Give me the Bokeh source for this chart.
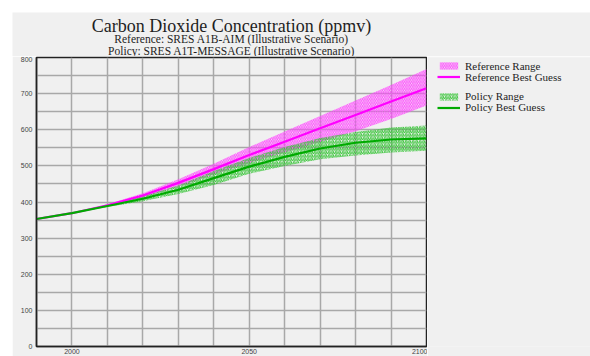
from bokeh.plotting import figure
from bokeh.models import Legend, LegendItem, Label, FixedTicker, Range1d, Spacer
from bokeh.layouts import column, row
from bokeh.embed import file_html
from bokeh.resources import INLINE

years = [1990, 2000, 2010, 2020, 2030, 2040, 2050, 2060, 2070, 2080, 2090, 2100]
ref_best = [353, 369, 391, 418, 453, 491, 530, 567, 604, 641, 678, 715]
ref_low = [353, 369, 388, 412, 443, 476, 508, 537, 566, 596, 630, 667]
ref_high = [353, 369, 394, 424, 463, 506, 552, 595, 638, 681, 724, 768]
pol_best = [353, 369, 389, 409, 434, 466, 498, 525, 548, 564, 573, 576]
pol_low = [353, 369, 386, 402, 422, 447, 478, 500, 518, 529, 537, 542]
pol_high = [353, 369, 392, 416, 446, 486, 522, 552, 577, 594, 606, 612]

x_tick_labels = [2000, 2050, 2100]
y_tick_labels = [0, 100, 200, 300, 400, 500, 600, 700, 800]
x_grid = [2000, 2010, 2020, 2030, 2040, 2050, 2060, 2070, 2080, 2090]
y_grid = [50, 100, 150, 200, 250, 300, 350, 400, 450, 500, 550, 600, 650, 700, 750]

title_text = "Carbon Dioxide Concentration (ppmv)"
sub1_text = "Reference: SRES A1B-AIM (Illustrative Scenario)"
sub2_text = "Policy: SRES A1T-MESSAGE (Illustrative Scenario)"
legend_labels = ["Reference Range", "Reference Best Guess", "Policy Range", "Policy Best Guess"]

BG = "#f0f0f0"
SERIF = "Liberation Serif"
SANS = "Liberation Sans"
TXT = "#1e1e1e"
REF_LINE = "#ff00ff"
REF_HATCH = "#ff44ff"
POL_LINE = "#00aa00"
POL_HATCH = "#33c433"

# ---------- title strip ----------
tf = figure(width=578, height=44, output_backend="svg", toolbar_location=None,
            min_border=0, x_axis_type=None, y_axis_type=None)
tf.background_fill_color = BG
tf.border_fill_color = BG
tf.outline_line_color = None
tf.xgrid.visible = False
tf.ygrid.visible = False
for txt, yy, fs in [(title_text, 30.5, "18px"), (sub1_text, 17.5, "11.5px"), (sub2_text, 5.5, "11.5px")]:
    tf.add_layout(Label(x=219, y=yy, x_units="screen", y_units="screen", text=txt,
                        text_align="center", text_baseline="alphabetic", text_font=SERIF,
                        text_font_size=fs, text_color=TXT))

# ---------- main plot ----------
p = figure(width=415, height=300, output_backend="svg", toolbar_location=None,
           x_range=Range1d(1990, 2100), y_range=Range1d(0, 800),
           min_border_left=24, min_border_right=1, min_border_top=1, min_border_bottom=7)
p.background_fill_color = BG
p.border_fill_color = BG
p.outline_line_color = "#222222"
p.outline_line_width = 1.5

for ax in (p.xaxis[0], p.yaxis[0]):
    ax.major_tick_line_color = None
    ax.minor_tick_line_color = None
    ax.major_tick_out = 0
    ax.major_tick_in = 0
    ax.axis_line_color = "#222222"
    ax.axis_line_width = 1.5
    ax.major_label_text_font = SANS
    ax.major_label_text_font_size = "7px"
    ax.major_label_text_color = "#444444"

p.xaxis.ticker = FixedTicker(ticks=x_tick_labels)
p.yaxis.ticker = FixedTicker(ticks=y_tick_labels)
p.xaxis.major_label_standoff = 2
p.yaxis.major_label_standoff = 4

p.xgrid.ticker = FixedTicker(ticks=x_grid)
p.ygrid.ticker = FixedTicker(ticks=y_grid)
for g in (p.xgrid[0], p.ygrid[0]):
    g.grid_line_color = "#a8a8a8"
    g.grid_line_width = 1.5

hatch_ref = dict(fill_color=None, fill_alpha=0, hatch_pattern="\\", hatch_color=REF_HATCH,
                 hatch_scale=3.5, hatch_weight=1)
hatch_pol = dict(fill_color=None, fill_alpha=0, hatch_pattern="/", hatch_color=POL_HATCH,
                 hatch_scale=3.5, hatch_weight=1)

p.varea(x=years, y1=ref_low, y2=ref_high, **hatch_ref)
p.varea(x=years, y1=pol_low, y2=pol_high, **hatch_pol)
p.line(years, ref_best, line_color=REF_LINE, line_width=2.2)
p.line(years, pol_best, line_color=POL_LINE, line_width=2.2)

# ---------- legend panel (same series; its ranges keep the marks out of view) ----------
lf = figure(width=163, height=300, output_backend="svg", toolbar_location=None,
            x_range=Range1d(0, 1), y_range=Range1d(0, 1),
            min_border_left=0, min_border_right=0, min_border_top=1, min_border_bottom=7,
            x_axis_type=None, y_axis_type=None)
lf.background_fill_color = BG
lf.border_fill_color = BG
lf.outline_line_color = None
lf.xgrid.visible = False
lf.ygrid.visible = False
d_ref_rng = lf.varea(x=years, y1=ref_low, y2=ref_high, **hatch_ref)
d_ref = lf.line(years, ref_best, line_color=REF_LINE, line_width=2.2)
d_pol_rng = lf.varea(x=years, y1=pol_low, y2=pol_high, **hatch_pol)
d_pol = lf.line(years, pol_best, line_color=POL_LINE, line_width=2.2)

for lab, rend, vy in zip(legend_labels, [d_ref_rng, d_ref, d_pol_rng, d_pol],
                         [273.5, 262.5, 243, 232]):
    lg = Legend(items=[LegendItem(label=lab, renderers=[rend])], location=(10, vy),
                label_text_font=SERIF, label_text_font_size="11px", label_text_color=TXT,
                glyph_width=23, glyph_height=9, label_height=14, label_standoff=5,
                spacing=0, padding=0, margin=0, border_line_color=None,
                background_fill_alpha=0)
    lf.add_layout(lg)

layout = column(Spacer(height=12), row(Spacer(width=12), tf), row(Spacer(width=12), p, lf))
open("out.html", "w").write(file_html(layout, INLINE))
